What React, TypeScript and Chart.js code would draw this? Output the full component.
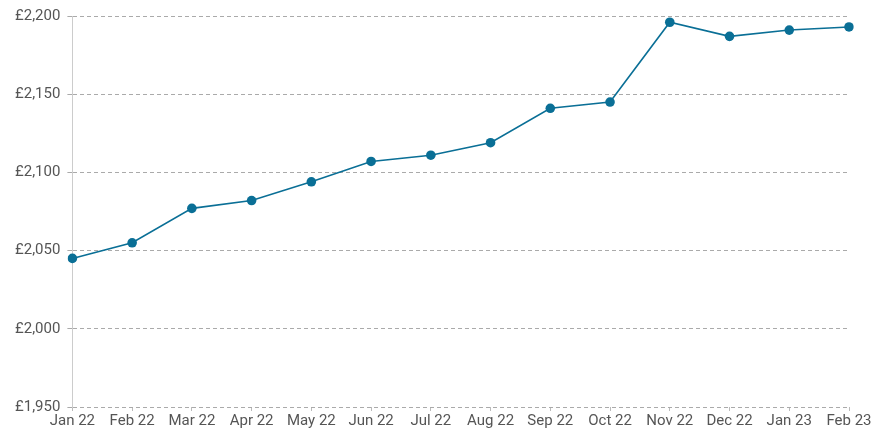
import React, { useEffect, useRef } from "react";
import { Chart, registerables } from "chart.js";

Chart.register(...registerables);

const categories = ["Jan 22", "Feb 22", "Mar 22", "Apr 22", "May 22", "Jun 22", "Jul 22", "Aug 22", "Sep 22", "Oct 22", "Nov 22", "Dec 22", "Jan 23", "Feb 23"];
const values = [2045, 2055, 2077, 2082, 2094, 2107, 2111, 2119, 2141, 2145, 2196, 2187, 2191, 2193];
const yMin = 1950;
const yMax = 2200;
const yStep = 50;

export default function App() {
  const ref = useRef<HTMLCanvasElement | null>(null);
  useEffect(() => {
    document.body.style.margin = "0";
    const ctx = ref.current!;
    const chart = new Chart(ctx, {
      type: "line",
      data: {
        labels: categories,
        datasets: [
          {
            data: values,
            borderColor: "#0a6f96",
            backgroundColor: "#0a6f96",
            borderWidth: 1.6,
            pointRadius: 4.8,
            pointHoverRadius: 4.8,
            pointBorderWidth: 0,
            tension: 0,
          },
        ],
      },
      options: {
        animation: false,
        responsive: false,
        maintainAspectRatio: false,
        layout: { padding: { top: 3, right: 31, left: 8, bottom: 9 } },
        plugins: { legend: { display: false }, tooltip: { enabled: false } },
        scales: {
          x: {
            offset: false,
            grid: { display: true, drawOnChartArea: false, tickLength: 4, color: "#bbbbbb" },
            border: { display: false },
            ticks: { color: "#555555", font: { family: "Roboto", size: 15 }, padding: 1, maxRotation: 0, autoSkip: false },
          },
          y: {
            min: yMin,
            max: yMax,
            grid: { color: "#aaaaaa", tickLength: 5 },
            border: { display: true, color: "#cccccc", dash: [4, 3] },
            ticks: {
              stepSize: yStep,
              color: "#555555",
              font: { family: "Roboto", size: 15 },
              padding: 7,
              callback: (v: any) => "£" + Number(v).toLocaleString("en-GB"),
            },
          },
        },
      },
    });
    return () => chart.destroy();
  }, []);
  return (
    <div style={{ width: 880, height: 440 }}>
      <canvas ref={ref} width={880} height={440} style={{ width: 880, height: 440 }} />
    </div>
  );
}
